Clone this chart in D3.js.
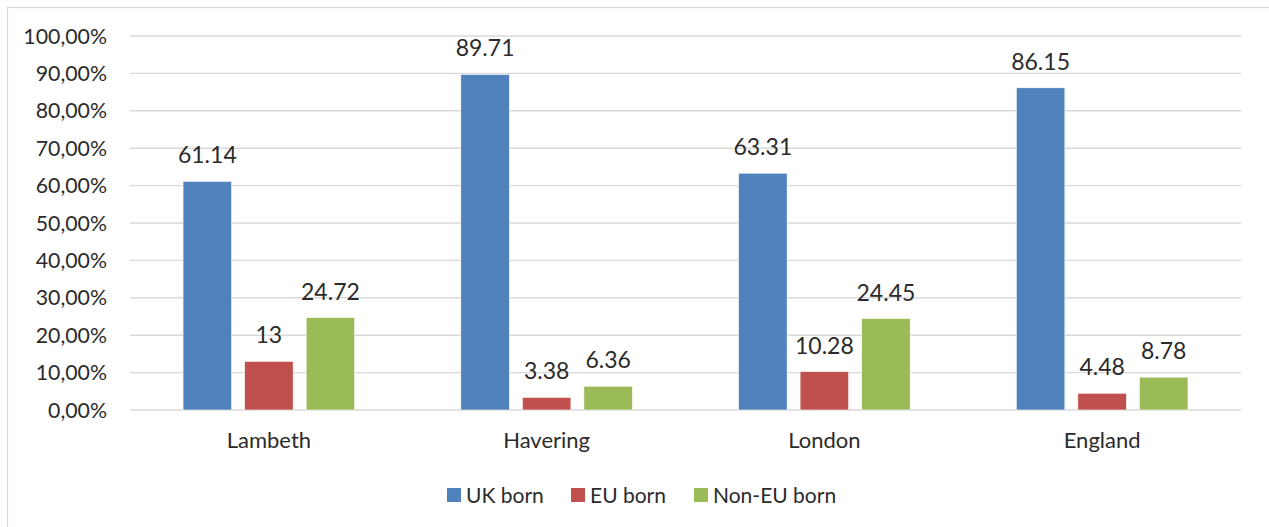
<!DOCTYPE html>
<html>
<head>
<meta charset="utf-8">
<script src="https://cdn.jsdelivr.net/npm/d3@7"></script>
<style>
  body { margin: 0; background: #fff; }
  text { font-family: Lato, "Open Sans", sans-serif; fill: #2b2b2b; }
</style>
</head>
<body>
<div id="chart"></div>
<script>
const categories = ['Lambeth', 'Havering', 'London', 'England']
const seriesNames = ['UK born', 'EU born', 'Non-EU born']
const ukBorn = [61.14, 89.71, 63.31, 86.15]
const euBorn = [13, 3.38, 10.28, 4.48]
const nonEuBorn = [24.72, 6.36, 24.45, 8.78]
const yTicks = [0, 10, 20, 30, 40, 50, 60, 70, 80, 90, 100]
const colors = ['#4f81bd', '#c0504d', '#9bbb59']

const width = 1269
const height = 527
const plot = { left: 130, right: 1241, top: 36, bottom: 410 }

const svg = d3.select('#chart')
  .append('svg')
  .attr('width', width)
  .attr('height', height)

// chart area border (cut off on the right and bottom)
svg.append('rect')
  .attr('x', 7.5)
  .attr('y', 7.5)
  .attr('width', width + 20)
  .attr('height', height + 20)
  .attr('fill', 'none')
  .attr('stroke', '#d9d9d9')
  .attr('stroke-width', 1.3)

const y = d3.scaleLinear()
  .domain([0, 100])
  .range([plot.bottom, plot.top])

const x0 = d3.scaleBand()
  .domain(categories)
  .range([plot.left, plot.right])
  .paddingInner(0.382)
  .paddingOuter(0.191)

const x1 = d3.scaleBand()
  .domain(seriesNames)
  .range([0, x0.bandwidth()])
  .paddingInner(0.211)

// gridlines
svg.append('g')
  .selectAll('line')
  .data(yTicks)
  .enter().append('line')
  .attr('x1', plot.left)
  .attr('x2', plot.right)
  .attr('y1', d => y(d))
  .attr('y2', d => y(d))
  .attr('stroke', '#d9d9d9')
  .attr('stroke-width', 1.4)

// y axis labels
const yAxis = d3.axisLeft(y)
  .tickValues(yTicks)
  .tickSize(0)
  .tickPadding(0)
  .tickFormat(d => d3.format('.2f')(d).replace('.', ',') + '%')

svg.append('g')
  .attr('transform', 'translate(107,0)')
  .call(yAxis)
  .call(g => g.select('.domain').remove())
  .selectAll('text')
  .attr('dy', null)
  .attr('y', 7)
  .style('font-size', '21.3px')
  .style('font-family', 'Lato, sans-serif')
  .attr('fill', '#2b2b2b')

// x axis labels
const xAxis = d3.axisBottom(x0).tickSize(0).tickPadding(0)
svg.append('g')
  .attr('transform', `translate(0,${plot.bottom})`)
  .call(xAxis)
  .call(g => g.select('.domain').remove())
  .selectAll('text')
  .attr('dy', null)
  .attr('y', 38)
  .style('font-size', '22px')
  .style('font-family', 'Lato, sans-serif')
  .attr('fill', '#2b2b2b')

// bars
const rows = categories.map((c, i) => ({
  category: c,
  values: [ukBorn[i], euBorn[i], nonEuBorn[i]].map((v, j) => ({ series: seriesNames[j], value: v, color: colors[j] }))
}))

const groups = svg.append('g')
  .selectAll('g')
  .data(rows)
  .enter().append('g')
  .attr('transform', d => `translate(${x0(d.category)},0)`)

groups.selectAll('rect')
  .data(d => d.values)
  .enter().append('rect')
  .attr('x', d => x1(d.series))
  .attr('y', d => y(d.value))
  .attr('width', x1.bandwidth())
  .attr('height', d => y(0) - y(d.value))
  .attr('fill', d => d.color)
  .attr('stroke', '#fff')
  .attr('stroke-width', 0.6)

groups.selectAll('text')
  .data(d => d.values)
  .enter().append('text')
  .attr('x', d => x1(d.series) + x1.bandwidth() / 2)
  .attr('y', d => y(d.value) - 18)
  .attr('text-anchor', 'middle')
  .style('font-size', '23px')
  .text(d => String(d.value))

// legend
const legendX = [447, 571, 694]
const legend = svg.append('g')
  .selectAll('g')
  .data(seriesNames)
  .enter().append('g')
  .attr('transform', (d, i) => `translate(${legendX[i]},488)`)

legend.append('rect')
  .attr('width', 14)
  .attr('height', 14)
  .attr('fill', (d, i) => colors[i])

legend.append('text')
  .attr('x', 19)
  .attr('y', 14.5)
  .style('font-size', '21px')
  .text(d => d)
</script>
</body>
</html>
